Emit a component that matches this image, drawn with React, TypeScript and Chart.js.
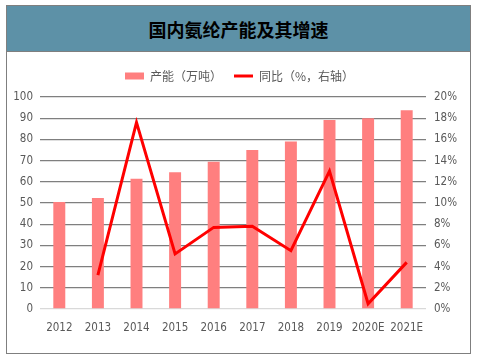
import React, { useEffect, useRef } from "react";
import { Chart, registerables } from "chart.js";

Chart.register(...registerables);

const categories = ["2012", "2013", "2014", "2015", "2016", "2017", "2018", "2019", "2020E", "2021E"];
const capacity = [50.5, 52.3, 61.4, 64.5, 69.5, 75.0, 79.0, 89.2, 90.0, 93.8];
const growth = [null, 3.2, 17.6, 5.2, 7.7, 7.8, 5.5, 13.0, 0.5, 4.4];
const leftTicks = [0, 10, 20, 30, 40, 50, 60, 70, 80, 90, 100];
const rightTicks = [0, 2, 4, 6, 8, 10, 12, 14, 16, 18, 20];

const tickFont = { family: "'DejaVu Sans Condensed', 'Liberation Sans', sans-serif", size: 11.5 };

const legendMargin = {
  id: "legendMargin",
  beforeInit(chart: any) {
    const orig = chart.legend.fit;
    chart.legend.fit = function () {
      orig.bind(chart.legend)();
      this.height += 5;
    };
  },
};

export default function App() {
  const ref = useRef<HTMLCanvasElement | null>(null);
  useEffect(() => {
    const ctx = ref.current!;
    const chart = new Chart(ctx, {
      plugins: [legendMargin],
      data: {
        labels: categories,
        datasets: [
          {
            type: "bar",
            label: "产能（万吨）",
            data: capacity,
            backgroundColor: "#FF7F7F",
            borderWidth: 0,
            barPercentage: 0.31,
            categoryPercentage: 1,
            yAxisID: "y",
            order: 2,
          },
          {
            type: "line",
            label: "同比（%，右轴）",
            data: growth as any,
            borderColor: "#FF0000",
            backgroundColor: "#FF0000",
            borderWidth: 3,
            pointRadius: 0,
            tension: 0,
            yAxisID: "y1",
            order: 1,
          },
        ],
      },
      options: {
        animation: false,
        responsive: false,
        layout: { padding: { top: 58, left: 0, right: 0, bottom: 0 } },
        plugins: {
          tooltip: { enabled: false },
          legend: {
            position: "top",
            labels: {
              color: "#595959",
              font: { family: "'Noto Sans CJK SC', sans-serif", size: 12 },
              usePointStyle: true,
              pointStyleWidth: 19,
              boxHeight: 7,
              padding: 12,
              sort: (a: any, b: any) => a.datasetIndex - b.datasetIndex,
              generateLabels: (c: any) => {
                const items = Chart.defaults.plugins.legend.labels.generateLabels(c);
                return items.map((it: any) => {
                  if (it.datasetIndex === 0) {
                    return { ...it, pointStyle: "rect", lineWidth: 0, fillStyle: "#FF7F7F", strokeStyle: "#FF7F7F" };
                  }
                  return { ...it, pointStyle: "line", lineWidth: 3, strokeStyle: "#FF0000" };
                });
              },
            },
          },
        },
        scales: {
          x: {
            grid: { display: false, drawTicks: false },
            border: { display: false },
            ticks: { color: "#595959", font: tickFont, padding: 12, maxRotation: 0, autoSkip: false },
            afterFit: (s: any) => { s.height = 51; },
          },
          y: {
            position: "left",
            min: 0,
            max: 100,
            afterBuildTicks: (s: any) => { s.ticks = leftTicks.map((v) => ({ value: v })); },
            ticks: { color: "#595959", font: tickFont, padding: 7 },
            grid: {
              drawTicks: false,
              color: (c: any) => (c.tick && c.tick.value === 0 ? "#D9D9D9" : "#7F7F7F"),
              lineWidth: 1.3,
            },
            border: { display: false },
            afterFit: (s: any) => { s.width = 40; },
          },
          y1: {
            position: "right",
            min: 0,
            max: 20,
            afterBuildTicks: (s: any) => { s.ticks = rightTicks.map((v) => ({ value: v })); },
            ticks: { color: "#595959", font: tickFont, padding: 8, callback: (v: any) => v + "%" },
            grid: { display: false, drawTicks: false },
            border: { display: false },
            afterFit: (s: any) => { s.width = 53; },
          },
        },
      },
    } as any);
    return () => chart.destroy();
  }, []);

  return (
    <div style={{ position: "absolute", left: 0, top: 0, width: 479, height: 360, background: "#fff" }}>
      <div
        style={{
          position: "absolute",
          left: 6,
          top: 5,
          width: 463,
          height: 347,
          border: "1px solid #7F7F7F",
          boxSizing: "content-box",
        }}
      >
        <div
          style={{
            height: 45,
            background: "#5D91A7",
            borderBottom: "1px solid #7F7F7F",
            display: "flex",
            alignItems: "center",
            justifyContent: "center",
            fontFamily: "'Noto Sans CJK SC', sans-serif",
            fontWeight: "bold",
            fontSize: 18,
            color: "#000",
          }}
        >
          国内氨纶产能及其增速
        </div>
      </div>
      <canvas ref={ref} width={479} height={360} style={{ position: "absolute", left: 0, top: 0 }} />
    </div>
  );
}
